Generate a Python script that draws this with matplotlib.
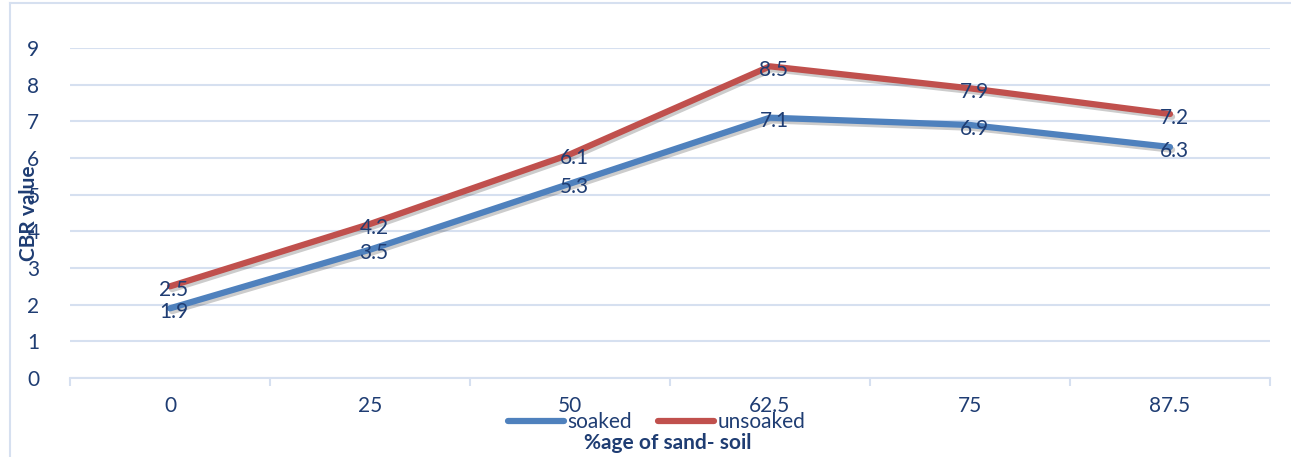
import matplotlib
matplotlib.use("Agg")
import matplotlib.pyplot as plt
import matplotlib.patheffects as pe
from matplotlib.lines import Line2D

plt.rcParams['font.family'] = ['Lato', 'DejaVu Sans']

sand_pct = ["0", "25", "50", "62.5", "75", "87.5"]
soaked = [1.9, 3.5, 5.3, 7.1, 6.9, 6.3]
unsoaked = [2.5, 4.2, 6.1, 8.5, 7.9, 7.2]

txt = '#1F3D73'
grid_c = '#D6E0F0'
blue = '#4F81BD'
red = '#C0504D'
fs = 15

fig = plt.figure(figsize=(12.91, 4.57), dpi=100)
ax = fig.add_axes([70/1291, 1 - 378/457, 1200/1291, 330/457])

x = list(range(len(sand_pct)))
shadow = [pe.SimpleLineShadow(offset=(1.5, -2), alpha=0.2, shadow_color='k'), pe.Normal()]
ax.plot(x, soaked, color=blue, lw=4.5, solid_capstyle='round', path_effects=shadow, zorder=3)
ax.plot(x, unsoaked, color=red, lw=4.5, solid_capstyle='round', path_effects=shadow, zorder=3)

for xi, v in zip(x, soaked):
    ax.text(xi + 0.02, v - 0.1, f"{v}", color=txt, fontsize=fs, ha='center', va='center', zorder=4)
for xi, v in zip(x, unsoaked):
    ax.text(xi + 0.02, v - 0.1, f"{v}", color=txt, fontsize=fs, ha='center', va='center', zorder=4)

ax.set_xlim(-0.5, len(sand_pct) - 0.5)
ax.set_ylim(0, 9)
ax.set_yticks(range(10))
ax.set_xticks(x)
ax.set_xticklabels(sand_pct)
ax.set_xticks([i - 0.5 for i in range(len(sand_pct) + 1)], minor=True)
ax.tick_params(axis='both', which='major', length=0, labelsize=fs, labelcolor=txt)
ax.tick_params(axis='x', which='major', pad=13)
ax.tick_params(axis='y', which='major', pad=22)
ax.tick_params(axis='x', which='minor', length=6, width=1.5, color=grid_c)
ax.yaxis.grid(True, color=grid_c, lw=1.5)
ax.set_axisbelow(True)
for s in ['top', 'right', 'left']:
    ax.spines[s].set_visible(False)
ax.spines['bottom'].set_color(grid_c)
ax.spines['bottom'].set_linewidth(1.5)

ax.set_ylabel("CBR value", fontsize=fs, fontweight='bold', color=txt)
ax.yaxis.set_label_coords(-0.026, 0.5)
fig.text(668/1291, 1 - 443/457, "%age of sand- soil", fontsize=fs, fontweight='bold',
         color=txt, ha='center', va='center')

handles = [Line2D([], [], color=blue, lw=4.5, solid_capstyle='round'),
           Line2D([], [], color=red, lw=4.5, solid_capstyle='round')]
fig.legend(handles, ["soaked", "unsoaked"], loc='center', bbox_to_anchor=(657/1291, 1 - 422/457),
           ncol=2, frameon=False, fontsize=fs, labelcolor=txt, handlelength=2.65,
           handletextpad=0.2, columnspacing=1.25, borderpad=0)

# chart frame
fig.add_artist(Line2D([10/1291, 10/1291], [0, 1 - 3/457], color=grid_c, lw=1.5))
fig.add_artist(Line2D([10/1291, 1], [1 - 3/457, 1 - 3/457], color=grid_c, lw=1.5))

fig.savefig("out.png", dpi=100)
